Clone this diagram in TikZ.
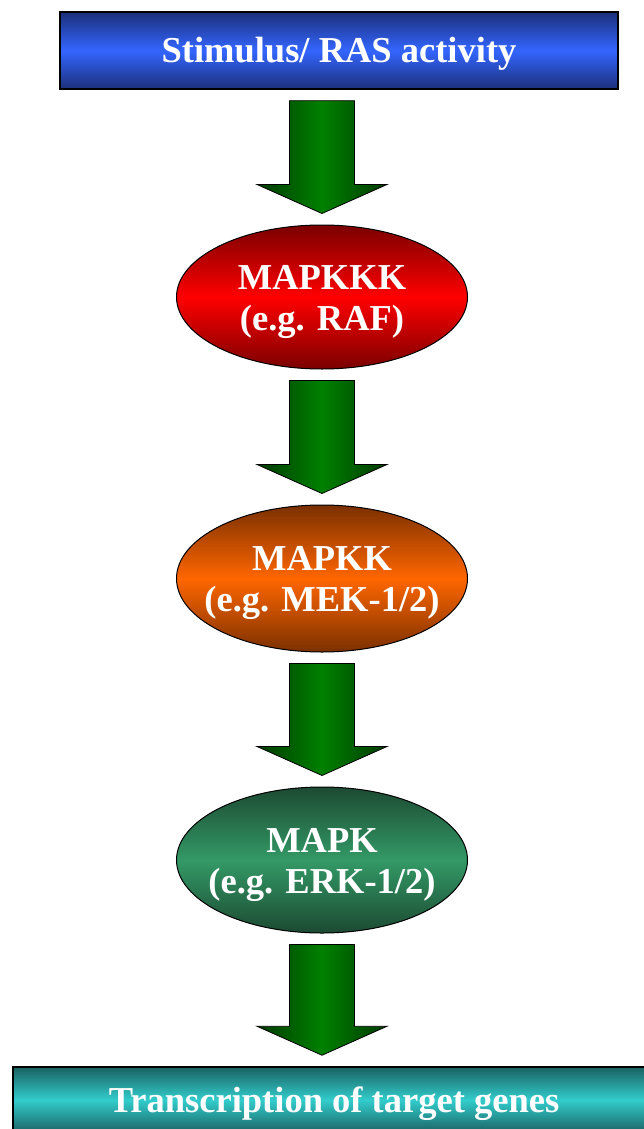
\documentclass[tikz,border=0pt]{standalone}
\usepackage{fontspec}
\setmainfont{Liberation Serif}
\usetikzlibrary{shapes.geometric,calc}

\definecolor{navy}{HTML}{1C2F7A}
\definecolor{brightblue}{HTML}{3366FF}
\definecolor{darkred}{HTML}{7A0000}
\definecolor{brightred}{HTML}{FF0000}
\definecolor{darkbrown}{HTML}{7A3000}
\definecolor{brightorange}{HTML}{FF6600}
\definecolor{darkgreen}{HTML}{1C4A32}
\definecolor{seagreen}{HTML}{339966}
\definecolor{darkteal}{HTML}{1A6262}
\definecolor{brightteal}{HTML}{33CCCC}
\definecolor{arrowdark}{HTML}{003A00}
\definecolor{arrowgreen}{HTML}{008000}

\tikzset{
  bigfont/.style={font=\fontsize{36.5}{41}\selectfont\bfseries, text=white, align=center},
  titlebox/.style={bigfont, rectangle, draw=black, line width=1.5pt, inner sep=0pt, text height=32pt, text depth=8pt},
  kinase/.style={bigfont, ellipse, draw=black, line width=1pt, inner xsep=-25pt, inner ysep=0pt,
    minimum width=291pt, text height=74pt, text depth=8pt},
  blockarrow/.style={draw=black, line width=0.8pt, left color=arrowdark, right color=arrowdark, middle color=arrowgreen}
}

% block arrow from one stage to the next, centred on the spine
\newcommand{\cascadearrow}[2]{%
  \draw[blockarrow] ($(spine |- #1.south)+(-32.5,11)$) -- ($(spine |- #1.south)+(32.5,11)$)
    -- ($(spine |- #2.north)+(32.5,-40)$) -- ($(spine |- #2.north)+(65,-40)$)
    -- ($(spine |- #2.north)+(0,-11)$) -- ($(spine |- #2.north)+(-65,-40)$)
    -- ($(spine |- #2.north)+(-32.5,-40)$) -- cycle;}

\begin{document}
\begin{tikzpicture}[x=1pt,y=-1pt]
    \useasboundingbox (0,0) rectangle (643,1129);
    \coordinate (spine) at (322,0);

    % Stages of the cascade
    \node[titlebox, minimum width=558pt, minimum height=77pt,
          top color=navy, bottom color=navy, middle color=brightblue]
        (stimulus) at (339,50.5) {Stimulus/ RAS activity};
    \node[kinase, minimum height=144pt,
          top color=darkred, bottom color=darkred, middle color=brightred]
        (mapkkk) at (322,297) {MAPKKK\\(e.g. RAF)};
    \node[kinase, minimum height=147pt,
          top color=darkbrown, bottom color=darkbrown, middle color=brightorange]
        (mapkk) at (322,578.5) {MAPKK\\(e.g. MEK-1/2)};
    \node[kinase, minimum height=146pt,
          top color=darkgreen, bottom color=darkgreen, middle color=seagreen]
        (mapk) at (322,860) {MAPK\\(e.g. ERK-1/2)};
    \node[titlebox, minimum width=642pt, minimum height=66pt,
          top color=darkteal, bottom color=darkteal, middle color=brightteal]
        (transcription) at (334,1100) {Transcription of target genes};

    % Arrows
    \cascadearrow{stimulus}{mapkkk}
    \cascadearrow{mapkkk}{mapkk}
    \cascadearrow{mapkk}{mapk}
    \cascadearrow{mapk}{transcription}
\end{tikzpicture}
\end{document}
